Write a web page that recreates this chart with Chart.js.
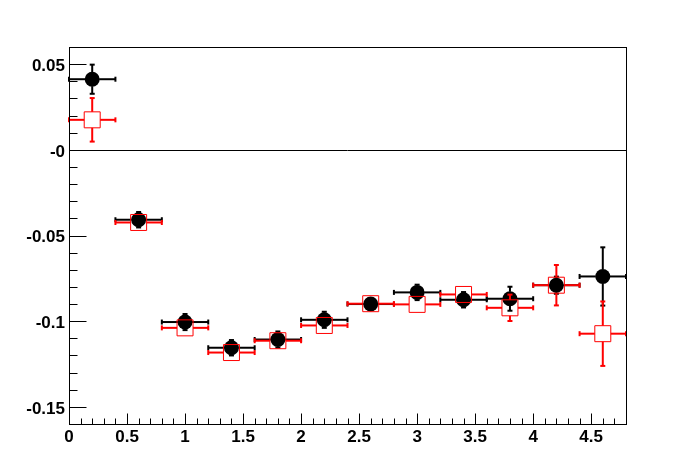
<!DOCTYPE html>
<html>
<head>
<meta charset="utf-8">
<script src="https://cdn.jsdelivr.net/npm/chart.js@4.4.1/dist/chart.umd.min.js"></script>
<style>
  html, body { margin: 0; padding: 0; background: #fff; }
  canvas { display: block; }
</style>
</head>
<body>
<canvas id="chart" width="696" height="472"></canvas>
<script>
// bin centres and half widths
const xCenters = [0.2, 0.6, 1.0, 1.4, 1.8, 2.2, 2.6, 3.0, 3.4, 3.8, 4.2, 4.6];
const xHalfWidths = [0.2, 0.2, 0.2, 0.2, 0.2, 0.2, 0.2, 0.2, 0.2, 0.2, 0.2, 0.2];

// black filled circles
const blackValues = [0.0412, -0.0408, -0.1005, -0.1155, -0.1107, -0.0992, -0.0900, -0.0832, -0.0875, -0.0869, -0.0790, -0.0739];
const blackErrors = [0.0085, 0.0045, 0.0047, 0.0045, 0.0047, 0.0047, 0.0040, 0.0045, 0.0045, 0.0070, 0.0050, 0.0170];

// red open squares
const redValues = [0.0175, -0.0424, -0.1039, -0.1183, -0.1114, -0.1025, -0.0898, -0.0902, -0.0844, -0.0922, -0.0790, -0.1073];
const redErrors = [0.0127, 0.0040, 0.0040, 0.0040, 0.0040, 0.0040, 0.0040, 0.0040, 0.0040, 0.0077, 0.0118, 0.0188];

const xTickValues = [0, 0.5, 1, 1.5, 2, 2.5, 3, 3.5, 4, 4.5];
const xTickLabels = ['0', '0.5', '1', '1.5', '2', '2.5', '3', '3.5', '4', '4.5'];
const yTickValues = [-0.15, -0.1, -0.05, 0, 0.05];
const yTickLabels = ['-0.15', '-0.1', '-0.05', '-0', '0.05'];

const X_MIN = 0, X_MAX = 4.8;
const Y_MIN = -0.16, Y_MAX = 0.06;

function makePoints(values, errors) {
    return xCenters.map((x, i) => ({
        x: x,
        y: values[i],
        xErr: xHalfWidths[i],
        yErr: errors[i],
    }));
}

function line(ctx, x1, y1, x2, y2) {
    ctx.beginPath();
    ctx.moveTo(x1, y1);
    ctx.lineTo(x2, y2);
    ctx.stroke();
}

// error bars drawn just before each dataset's markers, with a gap for the marker
const errorBars = {
    id: 'errorBars',
    beforeDatasetDraw(chart, args) {
        const ds = chart.data.datasets[args.index];
        const { ctx } = chart;
        const { x, y } = chart.scales;
        const gap = ds.barGap;
        const cap = 2.5;
        ctx.save();
        ctx.strokeStyle = ds.borderColor;
        ctx.lineWidth = 2;
        ds.data.forEach((p) => {
            const cx = x.getPixelForValue(p.x);
            const cy = y.getPixelForValue(p.y);
            const xl = x.getPixelForValue(p.x - p.xErr);
            const xr = x.getPixelForValue(p.x + p.xErr);
            const yt = y.getPixelForValue(p.y + p.yErr);
            const yb = y.getPixelForValue(p.y - p.yErr);
            line(ctx, xl, cy, cx - gap, cy);
            line(ctx, cx + gap, cy, xr, cy);
            line(ctx, xl, cy - cap, xl, cy + cap);
            line(ctx, xr, cy - cap, xr, cy + cap);
            if (cy - yt > gap) {
                line(ctx, cx, yt, cx, cy - gap);
                line(ctx, cx, cy + gap, cx, yb);
                line(ctx, cx - cap, yt, cx + cap, yt);
                line(ctx, cx - cap, yb, cx + cap, yb);
            }
        });
        ctx.restore();
    },
};

// ROOT style frame, inward ticks and the zero line
const rootFrame = {
    id: 'rootFrame',
    beforeDatasetsDraw(chart) {
        const { ctx, chartArea: a } = chart;
        const { y } = chart.scales;
        const y0 = Math.round(y.getPixelForValue(0)) + 0.5;
        ctx.save();
        ctx.strokeStyle = '#000';
        ctx.lineWidth = 1;
        line(ctx, a.left, y0, a.right, y0);
        ctx.restore();
    },
    afterDraw(chart) {
        const { ctx, chartArea: a } = chart;
        const { x, y } = chart.scales;
        const L = Math.round(a.left) + 0.5;
        const B = Math.round(a.bottom) + 0.5;
        ctx.save();
        ctx.strokeStyle = '#000';
        ctx.lineWidth = 1;
        ctx.strokeRect(L, Math.round(a.top) + 0.5, Math.round(a.right) - Math.round(a.left), Math.round(a.bottom) - Math.round(a.top));

        for (let i = 0; i <= Math.round((X_MAX - X_MIN) / 0.1); i++) {
            const v = X_MIN + i * 0.1;
            const major = i % 5 === 0;
            const px = Math.round(x.getPixelForValue(v)) + 0.5;
            line(ctx, px, B, px, B - (major ? 11 : 6));
        }
        for (let i = 0; i <= Math.round((Y_MAX - Y_MIN) / 0.01); i++) {
            const v = Y_MIN + i * 0.01;
            const major = Math.abs(Math.round(v * 100)) % 5 === 0;
            const py = Math.round(y.getPixelForValue(v)) + 0.5;
            line(ctx, L, py, L + (major ? 17 : 8), py);
        }
        ctx.restore();
    },
};

Chart.defaults.font.family = '"Liberation Sans", Arial, sans-serif';
Chart.defaults.font.size = 17;
Chart.defaults.font.weight = 'bold';
Chart.defaults.color = '#000';

new Chart(document.getElementById('chart'), {
    type: 'scatter',
    data: {
        datasets: [
            {
                data: makePoints(redValues, redErrors),
                borderColor: '#ff0000',
                backgroundColor: 'rgba(0,0,0,0)',
                pointStyle: 'rect',
                pointRadius: 11.3,
                pointBorderWidth: 1,
                barGap: 8,
                order: 0,
            },
            {
                data: makePoints(blackValues, blackErrors),
                borderColor: '#000000',
                backgroundColor: '#000000',
                pointStyle: 'circle',
                pointRadius: 7.5,
                pointBorderWidth: 0,
                barGap: 7,
                order: 1,
            },
        ],
    },
    options: {
        responsive: false,
        animation: false,
        events: [],
        layout: { padding: { top: 47, right: 70, left: 0, bottom: 0 } },
        plugins: {
            legend: { display: false },
            tooltip: { enabled: false },
        },
        scales: {
            x: {
                type: 'linear',
                min: X_MIN,
                max: X_MAX,
                border: { display: false },
                grid: { display: false, drawTicks: false },
                afterBuildTicks: (axis) => {
                    axis.ticks = xTickValues.map((v) => ({ value: v }));
                },
                afterFit: (axis) => {
                    axis.height = 48;
                },
                ticks: {
                    autoSkip: false,
                    maxRotation: 0,
                    padding: 3,
                    callback: (value, index) => xTickLabels[index],
                },
            },
            y: {
                type: 'linear',
                min: Y_MIN,
                max: Y_MAX,
                border: { display: false },
                grid: { display: false, drawTicks: false },
                afterBuildTicks: (axis) => {
                    axis.ticks = yTickValues.map((v) => ({ value: v }));
                },
                afterFit: (axis) => {
                    axis.width = 69;
                },
                ticks: {
                    autoSkip: false,
                    padding: 4,
                    labelOffset: 2,
                    callback: (value, index) => yTickLabels[index],
                },
            },
        },
    },
    plugins: [rootFrame, errorBars],
});
</script>
</body>
</html>
